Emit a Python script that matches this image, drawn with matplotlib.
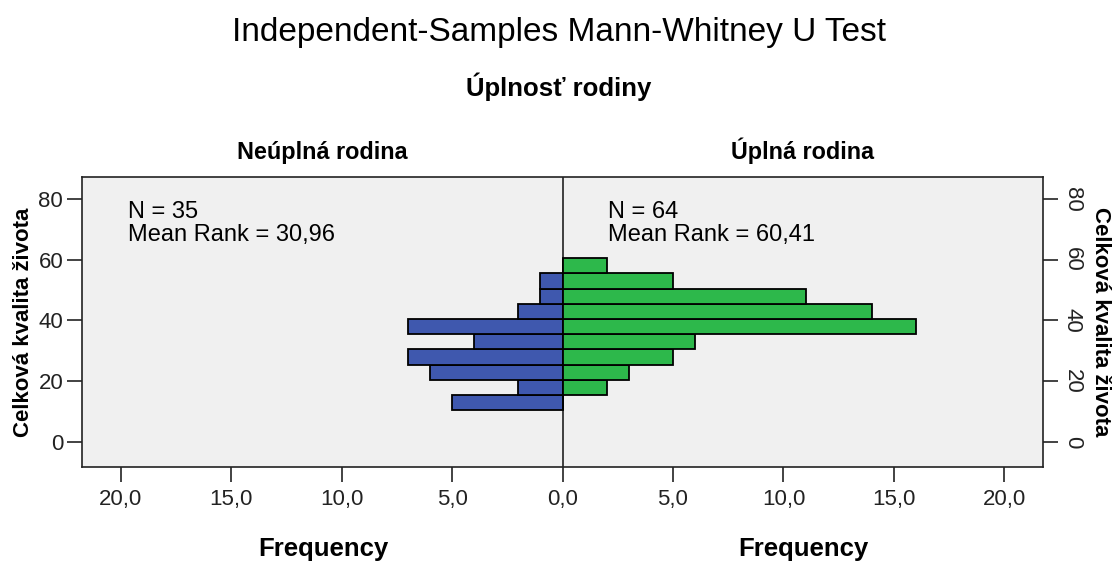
import numpy as np
import matplotlib.pyplot as plt

plt.rcParams['font.family'] = ['Liberation Sans', 'DejaVu Sans']

# bin edges of "Celková kvalita života" (bottom to top)
bin_edges = [10.5, 15.5, 20.5, 25.5, 30.5, 35.5, 40.5, 45.5, 50.5, 55.5, 60.5]
# frequencies per bin, bottom to top
neuplna = [5, 2, 6, 7, 4, 7, 2, 1, 1, 0]
uplna = [0, 2, 3, 5, 6, 16, 14, 11, 5, 2]

group_names = ['Neúplná rodina', 'Úplná rodina']
group_n = [35, 64]
mean_ranks = ['30,96', '60,41']

x_ticks = [-20, -15, -10, -5, 0, 5, 10, 15, 20]
y_ticks = [0, 20, 40, 60, 80]

blue = '#3F58AE'
green = '#2DB84B'
frame = '#222222'

fig = plt.figure(figsize=(11.17, 5.66), dpi=100)
ax = fig.add_axes([0.0734, 0.1749, 0.8604, 0.5124])
ax.set_facecolor('#F0F0F0')

lows = np.array(bin_edges[:-1])
heights = np.diff(bin_edges)
ax.barh(lows, [-v for v in neuplna], height=heights, align='edge',
        color=blue, edgecolor='black', linewidth=1.3)
ax.barh(lows, uplna, height=heights, align='edge',
        color=green, edgecolor='black', linewidth=1.3)
ax.axvline(0, color=frame, lw=1.2, zorder=0.5)

ax.set_xlim(-21.75, 21.75)
ax.set_ylim(-8.2, 87.2)
ax.set_xticks(x_ticks)
ax.set_xticklabels([f'{abs(t):.1f}'.replace('.', ',') for t in x_ticks])
ax.set_yticks(y_ticks)
ax.tick_params(axis='both', direction='out', length=10.5, width=1.2,
               color=frame, labelsize=16, labelcolor='#222222', pad=3)
ax.tick_params(axis='x', pad=5)
for s in ax.spines.values():
    s.set_color(frame)
    s.set_linewidth(1.2)

ax.set_ylabel('Celková kvalita života', fontsize=16, fontweight='bold', labelpad=3)

ax2 = ax.twinx()
ax2.set_ylim(ax.get_ylim())
ax2.set_yticks(y_ticks)
ax2.set_yticklabels([str(t) for t in y_ticks], rotation=-90, va='center')
ax2.tick_params(axis='y', direction='out', length=10.5, width=1.2,
                color=frame, labelsize=16, labelcolor='#222222', pad=3)
for s in ax2.spines.values():
    s.set_visible(False)
ax2.set_ylabel('Celková kvalita života', fontsize=16, fontweight='bold',
               rotation=-90, labelpad=20)

# annotations
for x0, n, mr in zip([-19.68, 2.04], group_n, mean_ranks):
    ax.text(x0, 73.8, f'N = {n}', fontsize=17, va='baseline', ha='left')
    ax.text(x0, 66.2, f'Mean Rank = {mr}', fontsize=17, va='baseline', ha='left')

# titles
fig.text(0.5, 0.9276, 'Independent-Samples Mann-Whitney U Test',
         ha='center', va='baseline', fontsize=24)
fig.text(0.5, 0.830, 'Úplnosť rodiny', ha='center', va='baseline',
         fontsize=18.5, fontweight='bold')
fig.text(0.2886, 0.719, group_names[0], ha='center', va='baseline',
         fontsize=16.8, fontweight='bold')
fig.text(0.7187, 0.719, group_names[1], ha='center', va='baseline',
         fontsize=16.8, fontweight='bold')
fig.text(0.2892, 0.0177, 'Frequency', ha='center', va='baseline',
         fontsize=18.5, fontweight='bold')
fig.text(0.7188, 0.0177, 'Frequency', ha='center', va='baseline',
         fontsize=18.5, fontweight='bold')

fig.savefig('out.png', dpi=100, facecolor='white')
